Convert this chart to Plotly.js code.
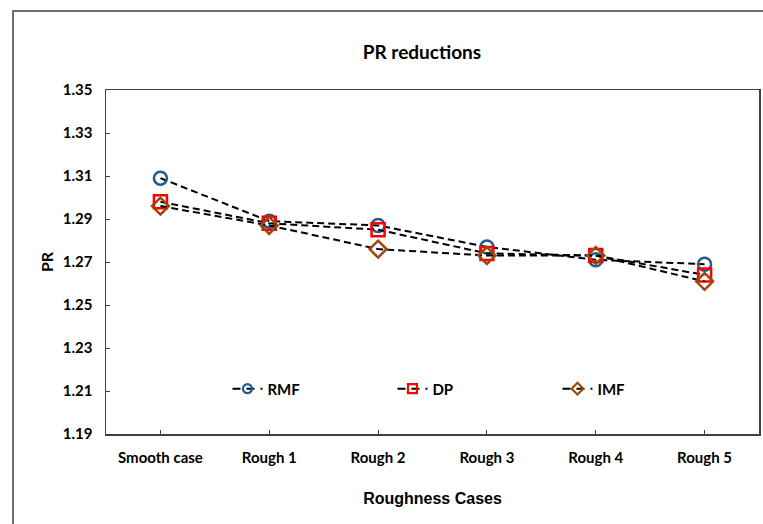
<!DOCTYPE html>
<html>
<head>
<meta charset="utf-8">
<script src="https://cdn.plot.ly/plotly-3.0.1.min.js"></script>
<style>html,body{margin:0;padding:0;background:#fff;}#chart{width:763px;height:524px;}</style>
</head>
<body>
<div id="chart"></div>
<script>
const categories = ["Smooth case", "Rough 1", "Rough 2", "Rough 3", "Rough 4", "Rough 5"];
const seriesNames = ["RMF", "DP", "IMF"];
const rmf = [1.309, 1.289, 1.287, 1.277, 1.271, 1.269];
const dp  = [1.298, 1.288, 1.285, 1.274, 1.273, 1.264];
const imf = [1.296, 1.287, 1.276, 1.273, 1.273, 1.261];
const yTicks = [1.19, 1.21, 1.23, 1.25, 1.27, 1.29, 1.31, 1.33, 1.35];

const symbols = ["circle-open", "square-open", "diamond-open"];
const colors = ["#1F5F8F", "#FF0000", "#A0450F"];
const values = [rmf, dp, imf];

const labelFont = {family: "Lato, 'Open Sans', sans-serif", size: 15, color: "#000", weight: 700};
const traces = [];
values.forEach((v, i) => {
  traces.push({
    x: categories, y: v, type: "scatter", mode: "lines+markers", name: seriesNames[i],
    showlegend: false,
    line: {color: "#000", width: 2, dash: "7px,4px"},
    marker: {symbol: symbols[i], size: 13, color: colors[i], line: {color: colors[i], width: 2.5}}
  });
});
values.forEach((v, i) => {
  traces.push({
    x: [null], y: [null], type: "scatter", mode: "lines+markers", name: seriesNames[i],
    showlegend: true,
    line: {color: "#000", width: 2, dash: "8px,6px"},
    marker: {symbol: symbols[i], size: 9, color: colors[i], line: {color: colors[i], width: 2.2}}
  });
});

const layout = {
  width: 763, height: 524,
  margin: {l: 106, r: 4, t: 90, b: 90},
  paper_bgcolor: "#fff", plot_bgcolor: "#fff",
  showlegend: true,
  title: {text: "PR reductions", x: 0.553, xanchor: "center", y: 0.9, yanchor: "middle",
          font: {family: "Lato, 'Open Sans', sans-serif", size: 19, color: "#000", weight: 700}},
  xaxis: {
    type: "category", range: [-0.5, 5.5],
    showline: true, linecolor: "#404040", linewidth: 1.5, mirror: true,
    ticks: "inside", ticklen: 4, tickcolor: "#404040", tickwidth: 1,
    showgrid: false, zeroline: false,
    tickfont: labelFont, ticklabelstandoff: 9,
    title: {text: "Roughness Cases", standoff: 28,
            font: {family: "'Liberation Sans', Arial, sans-serif", size: 16, color: "#000", weight: 700}}
  },
  yaxis: {
    range: [1.19, 1.35], tickvals: yTicks, ticktext: yTicks.map(t => t.toFixed(2)),
    showline: true, linecolor: "#404040", linewidth: 1.5, mirror: true,
    ticks: "inside", ticklen: 4, tickcolor: "#404040", tickwidth: 1,
    showgrid: false, zeroline: false,
    tickfont: labelFont, ticklabelstandoff: 9,
    title: {text: "PR", standoff: 5,
            font: {family: "Lato, 'Open Sans', sans-serif", size: 16, color: "#000", weight: 700}}
  },
  legend: {
    orientation: "h", x: 0.186, xanchor: "left", y: 0.131, yanchor: "middle",
    bgcolor: "rgba(0,0,0,0)", font: labelFont,
    entrywidth: 120, entrywidthmode: "pixels", traceorder: "normal"
  },
  shapes: [{
    type: "rect", xref: "paper", yref: "paper",
    x0: -0.1424, x1: 1.2, y0: -0.6, y1: 1.2297,
    line: {color: "#404040", width: 1.5}, fillcolor: "rgba(0,0,0,0)", layer: "below"
  }]
};

Plotly.newPlot("chart", traces, layout, {displayModeBar: false, staticPlot: true});
</script>
</body>
</html>
